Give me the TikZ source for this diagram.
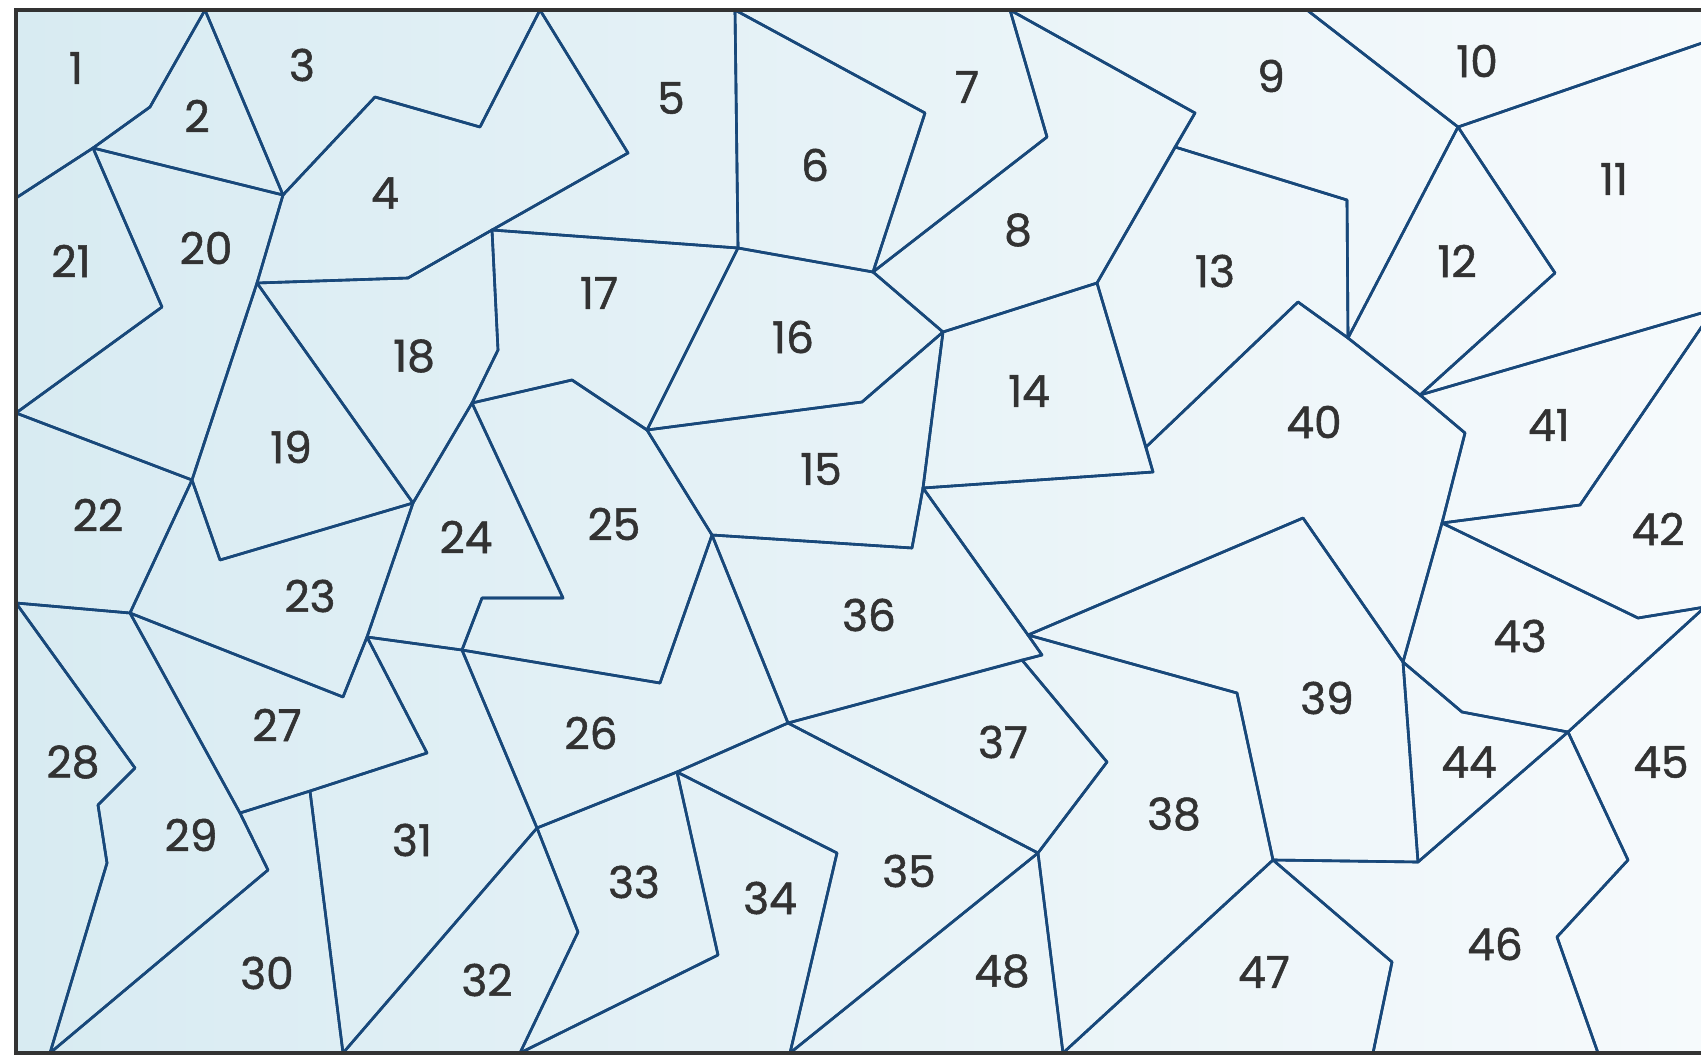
\documentclass[tikz,border=0pt]{standalone}
\usepackage{fontspec}
\setmainfont{Poppins}[RawFeature={embolden=1.2}]
\definecolor{mapline}{RGB}{24,72,122}
\definecolor{mapleft}{RGB}{216,235,242}
\definecolor{mapright}{RGB}{246,250,252}
\definecolor{numgray}{RGB}{50,50,50}
\begin{document}
\begin{tikzpicture}[x=0.02cm,y=-0.02cm,
  piece/.style={draw=mapline,line width=1.5pt,line join=round},
  tag/.style={text=numgray,font=\fontsize{25}{30}\selectfont,inner sep=0pt}]
\useasboundingbox (0,0) rectangle (1701,1058);
\clip (0,0) rectangle (1701,1058);
\fill[left color=mapleft,right color=mapright] (16,10) rectangle (1705,1053);
% top row
\draw[piece] (16,10) -- (205,10) -- (150,107) -- (93,148) -- (16,198) -- cycle;
\draw[piece] (205,10) -- (150,107) -- (93,148) -- (283,195) -- cycle;
\draw[piece] (205,10) -- (540,10) -- (480,127) -- (375,97) -- (283,195) -- cycle;
\draw[piece] (283,195) -- (375,97) -- (480,127) -- (540,10) -- (628,153) -- (492,230) -- (408,278) -- (257,283) -- cycle;
\draw[piece] (540,10) -- (735,10) -- (738,248) -- (492,230) -- (628,153) -- cycle;
\draw[piece] (735,10) -- (925,113) -- (873,272) -- (738,248) -- cycle;
\draw[piece] (735,10) -- (1010,10) -- (1047,137) -- (873,272) -- (925,113) -- cycle;
\draw[piece] (1010,10) -- (1195,113) -- (1097,283) -- (943,332) -- (873,272) -- (1047,137) -- cycle;
\draw[piece] (1010,10) -- (1307,10) -- (1458,127) -- (1348,338) -- (1347,200) -- (1175,147) -- (1195,113) -- cycle;
\draw[piece] (1307,10) -- (1705,10) -- (1705,42) -- (1458,127) -- cycle;
\draw[piece] (1458,127) -- (1705,42) -- (1705,312) -- (1420,395) -- (1555,273) -- cycle;
\draw[piece] (1458,127) -- (1555,273) -- (1420,395) -- (1348,338) -- cycle;
% middle
\draw[piece] (1175,147) -- (1347,200) -- (1348,338) -- (1298,302) -- (1146,447) -- (1097,283) -- cycle;
\draw[piece] (943,332) -- (1097,283) -- (1153,472) -- (923,488) -- cycle;
\draw[piece] (647,430) -- (862,402) -- (943,332) -- (923,488) -- (912,548) -- (712,535) -- cycle;
\draw[piece] (738,248) -- (873,272) -- (943,332) -- (862,402) -- (647,430) -- cycle;
\draw[piece] (492,230) -- (738,248) -- (647,430) -- (572,380) -- (472,403) -- (498,350) -- cycle;
\draw[piece] (257,283) -- (408,278) -- (492,230) -- (498,350) -- (472,403) -- (413,503) -- cycle;
\draw[piece] (257,283) -- (413,503) -- (220,560) -- (192,480) -- cycle;
\draw[piece] (93,148) -- (283,195) -- (257,283) -- (192,480) -- (16,413) -- (162,307) -- cycle;
\draw[piece] (16,198) -- (93,148) -- (162,307) -- (16,413) -- cycle;
\draw[piece] (16,413) -- (192,480) -- (130,613) -- (16,603) -- cycle;
\draw[piece] (192,480) -- (220,560) -- (413,503) -- (367,637) -- (343,697) -- (130,613) -- cycle;
\draw[piece] (413,503) -- (472,403) -- (563,598) -- (482,598) -- (462,650) -- (367,637) -- cycle;
\draw[piece] (472,403) -- (572,380) -- (647,430) -- (712,535) -- (660,683) -- (462,650) -- (482,598) -- (563,598) -- cycle;
\draw[piece] (462,650) -- (660,683) -- (712,535) -- (788,723) -- (677,772) -- (537,828) -- cycle;
\draw[piece] (130,613) -- (343,697) -- (367,637) -- (427,753) -- (310,791) -- (240,813) -- cycle;
% bottom row
\draw[piece] (16,603) -- (135,768) -- (98,805) -- (107,863) -- (50,1053) -- (16,1053) -- cycle;
\draw[piece] (16,603) -- (130,613) -- (240,813) -- (268,870) -- (50,1053) -- (107,863) -- (98,805) -- (135,768) -- cycle;
\draw[piece] (240,813) -- (310,791) -- (343,1053) -- (50,1053) -- (268,870) -- cycle;
\draw[piece] (310,791) -- (427,753) -- (367,637) -- (462,650) -- (537,828) -- (343,1053) -- cycle;
\draw[piece] (537,828) -- (578,932) -- (520,1053) -- (343,1053) -- cycle;
\draw[piece] (537,828) -- (677,772) -- (718,955) -- (520,1053) -- (578,932) -- cycle;
\draw[piece] (677,772) -- (837,853) -- (790,1053) -- (520,1053) -- (718,955) -- cycle;
\draw[piece] (788,723) -- (1038,853) -- (790,1053) -- (837,853) -- (677,772) -- cycle;
\draw[piece] (712,535) -- (912,548) -- (923,488) -- (1028,635) -- (1042,655) -- (788,723) -- cycle;
\draw[piece] (1022,660) -- (1107,762) -- (1038,853) -- (788,723) -- cycle;
\draw[piece] (1028,635) -- (1237,693) -- (1273,860) -- (1063,1053) -- (1038,853) -- (1107,762) -- (1022,660) -- (1042,655) -- cycle;
\draw[piece] (1303,518) -- (1403,662) -- (1418,862) -- (1273,860) -- (1237,693) -- (1028,635) -- cycle;
\draw[piece] (923,488) -- (1153,472) -- (1146,447) -- (1298,302) -- (1348,338) -- (1420,395) -- (1465,433) -- (1442,523) -- (1403,662) -- (1303,518) -- (1028,635) -- cycle;
\draw[piece] (1420,395) -- (1705,312) -- (1705,322) -- (1580,505) -- (1442,523) -- (1465,433) -- cycle;
\draw[piece] (1705,322) -- (1580,505) -- (1442,523) -- (1638,618) -- (1705,607) -- cycle;
\draw[piece] (1442,523) -- (1638,618) -- (1705,607) -- (1568,732) -- (1462,712) -- (1403,662) -- cycle;
\draw[piece] (1403,662) -- (1462,712) -- (1568,732) -- (1418,862) -- cycle;
\draw[piece] (1568,732) -- (1705,607) -- (1705,1053) -- (1598,1053) -- (1557,937) -- (1628,860) -- cycle;
\draw[piece] (1273,860) -- (1418,862) -- (1568,732) -- (1628,860) -- (1557,937) -- (1598,1053) -- (1373,1053) -- (1392,962) -- cycle;
\draw[piece] (1273,860) -- (1392,962) -- (1373,1053) -- (1063,1053) -- cycle;
\draw[piece] (1038,853) -- (1063,1053) -- (790,1053) -- cycle;
% frame
\draw[line width=2.3pt,draw=black!80] (1705,10) -- (16,10) -- (16,1053) -- (1705,1053);
% numbers
\node[tag] (n1) at (76,68) {1};
\node[tag] (n2) at (197,116) {2};
\node[tag] (n3) at (302,65) {3};
\node[tag] (n4) at (385,193) {4};
\node[tag] (n5) at (671,98) {5};
\node[tag] (n6) at (815,165) {6};
\node[tag] (n7) at (967,87) {7};
\node[tag] (n8) at (1018,230) {8};
\node[tag] (n9) at (1271,76) {9};
\node[tag] (n10) at (1477,61) {10};
\node[tag] (n11) at (1614,179) {11};
\node[tag] (n12) at (1457,261) {12};
\node[tag] (n13) at (1215,271) {13};
\node[tag] (n14) at (1029,391) {14};
\node[tag] (n15) at (821,469) {15};
\node[tag] (n16) at (793,337) {16};
\node[tag] (n17) at (599,293) {17};
\node[tag] (n18) at (414,356) {18};
\node[tag] (n19) at (291,447) {19};
\node[tag] (n20) at (206,248) {20};
\node[tag] (n21) at (71,261) {21};
\node[tag] (n22) at (98,515) {22};
\node[tag] (n23) at (310,596) {23};
\node[tag] (n24) at (466,537) {24};
\node[tag] (n25) at (614,524) {25};
\node[tag] (n26) at (591,733) {26};
\node[tag] (n27) at (277,725) {27};
\node[tag] (n28) at (73,762) {28};
\node[tag] (n29) at (191,835) {29};
\node[tag] (n30) at (267,973) {30};
\node[tag] (n31) at (412,840) {31};
\node[tag] (n32) at (487,980) {32};
\node[tag] (n33) at (634,882) {33};
\node[tag] (n34) at (770,898) {34};
\node[tag] (n35) at (909,871) {35};
\node[tag] (n36) at (869,615) {36};
\node[tag] (n37) at (1003,742) {37};
\node[tag] (n38) at (1174,814) {38};
\node[tag] (n39) at (1327,698) {39};
\node[tag] (n40) at (1314,422) {40};
\node[tag] (n41) at (1549,425) {41};
\node[tag] (n42) at (1658,529) {42};
\node[tag] (n43) at (1520,636) {43};
\node[tag] (n44) at (1469,762) {44};
\node[tag] (n45) at (1661,762) {45};
\node[tag] (n46) at (1495,944) {46};
\node[tag] (n47) at (1264,972) {47};
\node[tag] (n48) at (1002,971) {48};
\end{tikzpicture}
\end{document}
